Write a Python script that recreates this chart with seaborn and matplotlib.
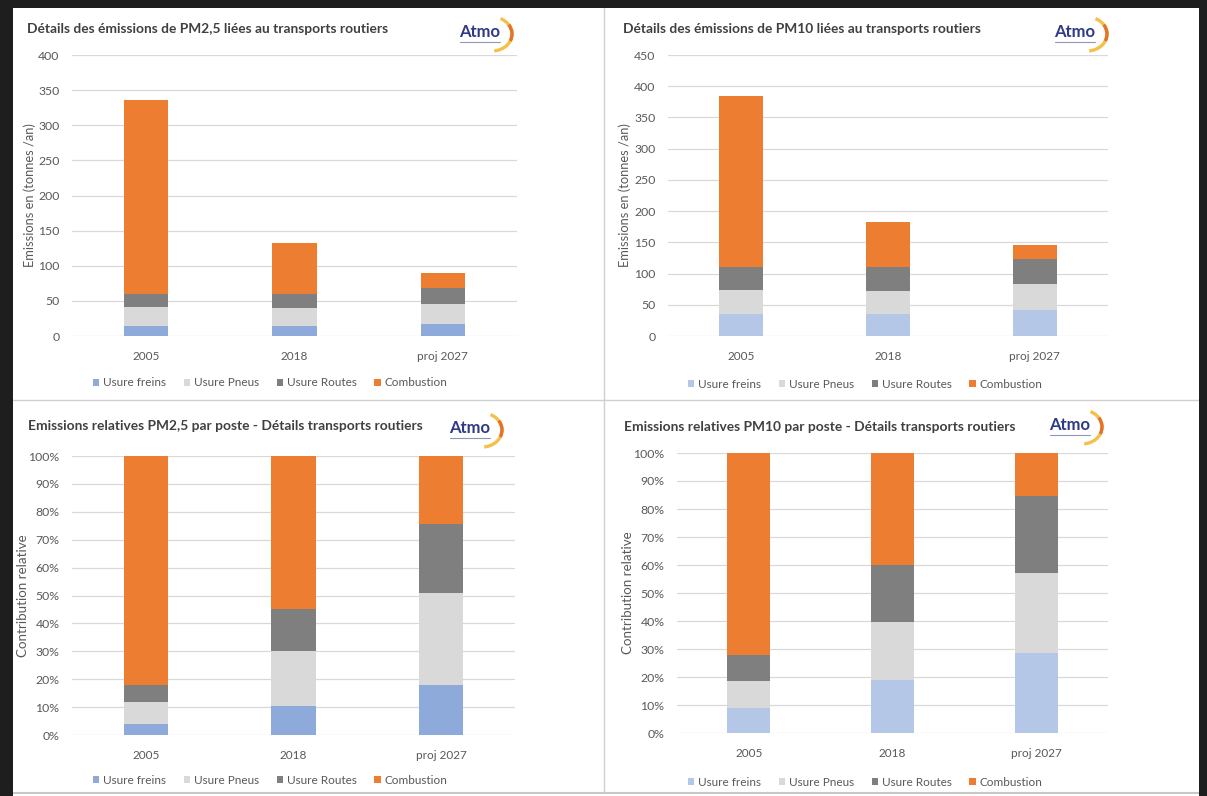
import numpy as np
import pandas as pd
import matplotlib
matplotlib.use("Agg")
import matplotlib.pyplot as plt
from matplotlib.patches import Patch, Rectangle, Arc
from matplotlib.lines import Line2D
import seaborn as sns

# ---- data -------------------------------------------------------------
categories = ["2005", "2018", "proj 2027"]
series = ["Usure freins", "Usure Pneus", "Usure Routes", "Combustion"]

# PM2,5 emissions (tonnes / an)
pm25_freins = [14, 14, 17]
pm25_pneus = [27, 26, 29]
pm25_routes = [19, 20, 22]
pm25_combustion = [276, 72, 22]

# PM10 emissions (tonnes / an)
pm10_freins = [36, 36, 42]
pm10_pneus = [37, 36, 42]
pm10_routes = [37, 38, 40]
pm10_combustion = [275, 72, 22]

# relative contribution (%)
pm25_rel_freins = [4, 10.5, 18]
pm25_rel_pneus = [8, 19.5, 33]
pm25_rel_routes = [6, 15, 24.5]
pm25_rel_combustion = [82, 55, 24.5]

pm10_rel_freins = [9, 19, 28.5]
pm10_rel_pneus = [9.5, 20.5, 28.5]
pm10_rel_routes = [9.5, 20.5, 27.5]
pm10_rel_combustion = [72, 40, 15.5]

titles = [
    "Détails des émissions de PM2,5 liées au transports routiers",
    "Détails des émissions de PM10 liées au transports routiers",
    "Emissions relatives PM2,5 par poste - Détails transports routiers",
    "Emissions relatives PM10 par poste - Détails transports routiers",
]

# ---- style ------------------------------------------------------------
sns.set_style("white")
plt.rcParams["font.family"] = ["Lato", "DejaVu Sans"]

TXT = "#595959"
TITLE = "#404040"
GRID = "#d9d9d9"
colors_pm25 = ["#8eaadb", "#d9d9d9", "#7f7f7f", "#ed7d31"]
colors_pm10 = ["#b4c7e7", "#d9d9d9", "#7f7f7f", "#ed7d31"]

W, H = 1207, 796
fig = plt.figure(figsize=(W / 100, H / 100), dpi=100)
fig.patch.set_facecolor("white")


def fx(px):
    return px / W


def fy(py):
    return 1 - py / H


def axes_px(left, right, top, bottom):
    return fig.add_axes([fx(left), fy(bottom), fx(right - left), (bottom - top) / H])


def stacked(ax, layers, colors, ymax, step, percent=False):
    df = pd.DataFrame({"categorie": categories})
    tops = np.cumsum(np.array(layers, dtype=float), axis=0)
    # draw from the highest cumulative layer down so each segment stays visible
    for i in range(len(layers) - 1, -1, -1):
        df["top"] = tops[i]
        sns.barplot(data=df, x="categorie", y="top", color=colors[i],
                    saturation=1, width=0.30, ax=ax, zorder=3,
                    linewidth=0, edgecolor="none")
    ax.set_xlim(-0.5, 2.5)
    ax.set_ylim(0, ymax)
    ticks = np.arange(0, ymax + step / 2, step)
    ax.set_yticks(ticks)
    if percent:
        ax.set_yticklabels([f"{int(t)}%" for t in ticks])
    ax.grid(axis="y", color=GRID, linewidth=0.9, zorder=0)
    ax.grid(axis="x", visible=False)
    for s in ax.spines.values():
        s.set_visible(False)
    ax.tick_params(axis="y", length=0, pad=9, labelsize=8.8, labelcolor=TXT)
    ax.tick_params(axis="x", length=0, pad=11, labelsize=8.5, labelcolor=TXT)
    ax.set_xlabel("")


def legend(cx, cy, colors):
    handles = [Patch(facecolor=c, edgecolor="none") for c in colors]
    fig.legend(handles, series, loc="center", bbox_to_anchor=(fx(cx), fy(cy)),
               ncol=4, frameon=False, fontsize=8.5, labelcolor=TXT,
               handlelength=0.55, handleheight=0.55, handletextpad=0.3,
               columnspacing=1.5, borderpad=0)


def logo(cx, cy):
    fig.text(fx(cx), fy(cy), "Atmo", ha="center", va="center", fontsize=12,
             fontweight="bold", color="#2e3a87")
    fig.add_artist(Line2D([fx(cx - 20), fx(cx + 20)], [fy(cy + 10), fy(cy + 10)],
                          color="#8f96bd", linewidth=0.8))
    fig.add_artist(Arc((fx(cx + 12), fy(cy + 2)), fx(40), 34 / H, theta1=-85, theta2=70,
                       color="#f4c04a", linewidth=2.4))
    fig.add_artist(Arc((fx(cx + 12), fy(cy + 2)), fx(40), 34 / H, theta1=-30, theta2=40,
                       color="#e8712a", linewidth=2.4))


# ---- panels -----------------------------------------------------------
ax1 = axes_px(72, 517, 55, 336)
stacked(ax1, [pm25_freins, pm25_pneus, pm25_routes, pm25_combustion],
        colors_pm25, 400, 50)
ax1.set_ylabel("Emissions en (tonnes /an)", fontsize=9.3, color=TXT)
ax1.yaxis.set_label_coords((30 - 72) / 445, 0.5)

ax2 = axes_px(668, 1108, 55, 336)
stacked(ax2, [pm10_freins, pm10_pneus, pm10_routes, pm10_combustion],
        colors_pm10, 450, 50)
ax2.set_ylabel("Emissions en (tonnes /an)", fontsize=9.3, color=TXT)
ax2.yaxis.set_label_coords((625 - 668) / 440, 0.5)

ax3 = axes_px(72, 515, 456, 735)
stacked(ax3, [pm25_rel_freins, pm25_rel_pneus, pm25_rel_routes, pm25_rel_combustion],
        colors_pm25, 100, 10, percent=True)
ax3.set_ylabel("Contribution relative", fontsize=9.6, color=TXT)
ax3.yaxis.set_label_coords((23 - 72) / 443, 0.5)

ax4 = axes_px(677, 1108, 453, 733)
stacked(ax4, [pm10_rel_freins, pm10_rel_pneus, pm10_rel_routes, pm10_rel_combustion],
        colors_pm10, 100, 10, percent=True)
ax4.set_ylabel("Contribution relative", fontsize=9.6, color=TXT)
ax4.yaxis.set_label_coords((628 - 677) / 431, 0.5)

for ax in (ax1, ax2, ax3, ax4):
    ax.yaxis.label.set_va("center")

# titles
for (x, y), t in zip([(27, 29), (623, 29), (28, 426), (624, 427)], titles):
    fig.text(fx(x), fy(y), t, ha="left", va="center", fontsize=9.9,
             fontweight="bold", color=TITLE)

# legends
legend(270, 383, colors_pm25)
legend(865, 384, colors_pm10)
legend(270, 780, colors_pm25)
legend(865, 782, colors_pm10)

# logos
logo(480, 32)
logo(1075, 32)
logo(470, 428)
logo(1070, 425)

# panel separators
fig.add_artist(Line2D([fx(604), fx(604)], [fy(8), fy(793)], color="#d0d0d0", linewidth=1))
fig.add_artist(Line2D([fx(13), fx(1199)], [fy(400), fy(400)], color="#d0d0d0", linewidth=1))
fig.add_artist(Line2D([fx(13), fx(1199)], [fy(793), fy(793)], color="#c8c8c8", linewidth=1.5))

# dark outer frame
frame = [(0, 0, 13, H), (0, 0, W, 8), (1199, 0, W - 1199, H)]
for x0, y0, w, h in frame:
    fig.add_artist(Rectangle((fx(x0), fy(y0 + h)), fx(w), h / H,
                             transform=fig.transFigure, facecolor="#1e1e1e",
                             edgecolor="none", zorder=10))

fig.savefig("out.png", dpi=100, facecolor="white")
